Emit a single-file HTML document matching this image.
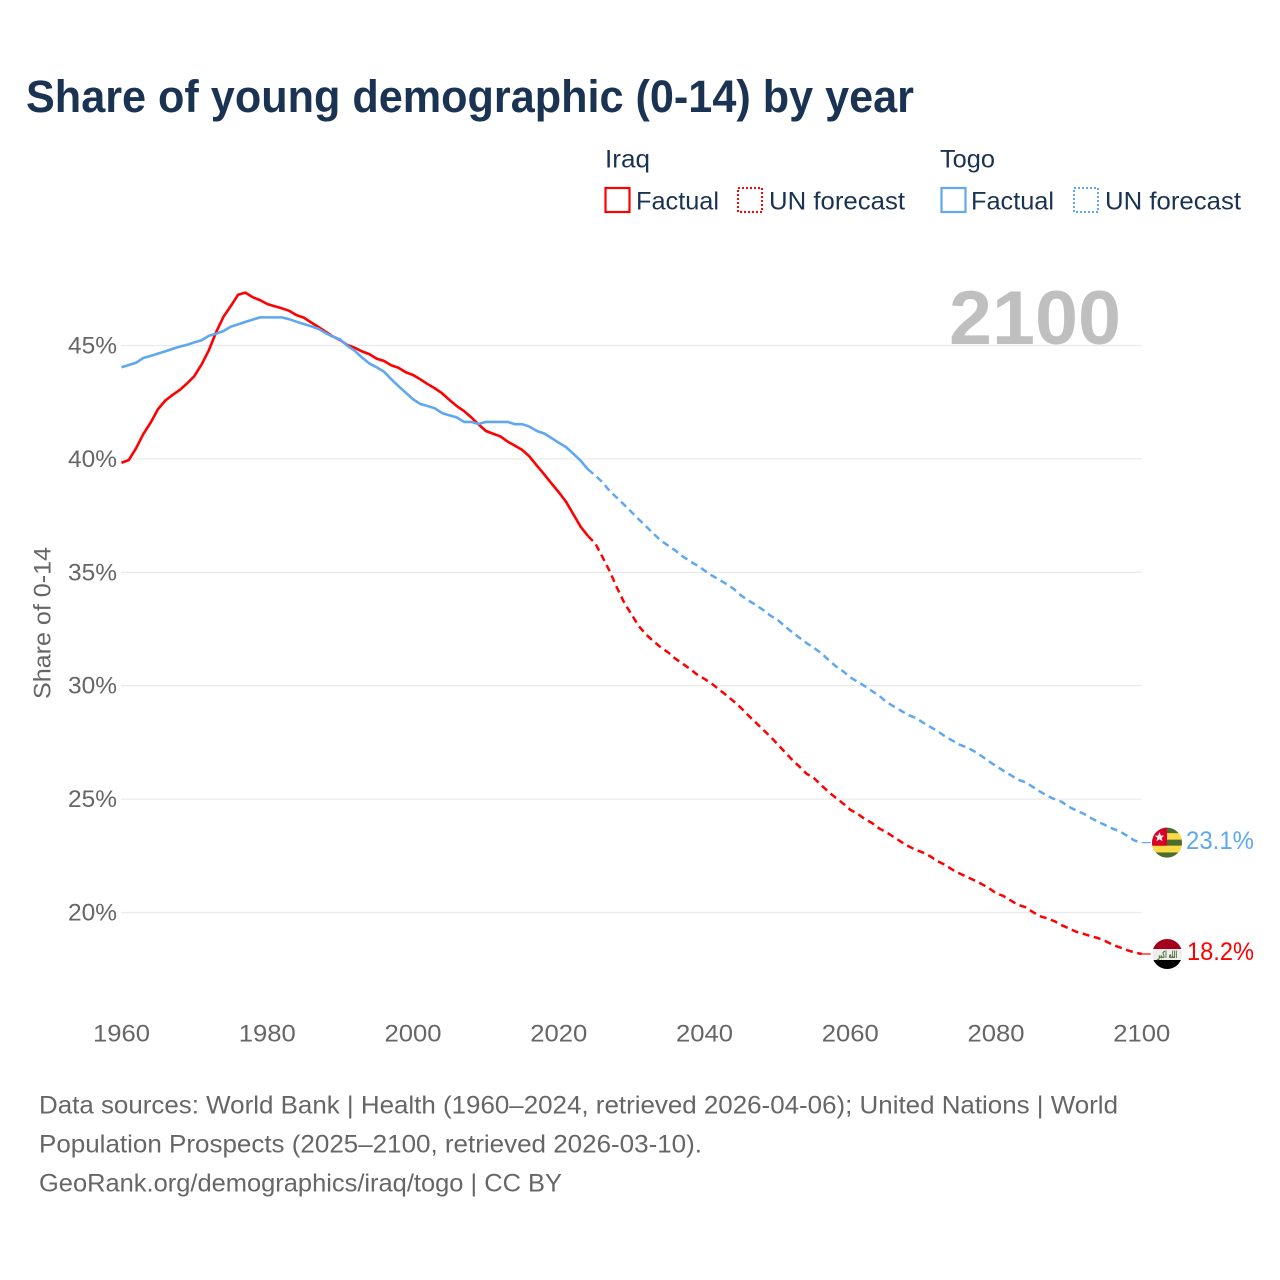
<!DOCTYPE html>
<html lang="en">
<head>
<meta charset="utf-8">
<title>Share of young demographic (0-14) by year</title>
<style>
html,body{margin:0;padding:0;background:#fff;}
svg{display:block;font-family:"Liberation Sans",sans-serif;}
</style>
</head>
<body>
<svg id="chart" xmlns="http://www.w3.org/2000/svg" width="1280" height="1280" viewBox="0 0 1280 1280">
  <rect width="1280" height="1280" fill="#ffffff"/>
  <text x="26" y="112" font-size="45" font-weight="700" fill="#1a3353" textLength="888" lengthAdjust="spacingAndGlyphs">Share of young demographic (0-14) by year</text>

  <g font-size="25" fill="#1a3353">
    <text x="605" y="167.5" textLength="45" lengthAdjust="spacingAndGlyphs">Iraq</text>
    <text x="940" y="167.5" textLength="55" lengthAdjust="spacingAndGlyphs">Togo</text>
    <g>
      <rect x="605.5" y="188" width="24" height="24" fill="none" stroke="#ff0000" stroke-width="2.2"/>
      <text x="636" y="209.5" textLength="83" lengthAdjust="spacingAndGlyphs">Factual</text>
    </g>
    <g>
      <rect x="738" y="188" width="24" height="24" fill="none" stroke="#ff0000" stroke-width="2" stroke-dasharray="2 2"/>
      <text x="769" y="209.5" textLength="136" lengthAdjust="spacingAndGlyphs">UN forecast</text>
    </g>
    <g>
      <rect x="941.5" y="188" width="24" height="24" fill="none" stroke="#5fa8f0" stroke-width="2.2"/>
      <text x="971" y="209.5" textLength="83" lengthAdjust="spacingAndGlyphs">Factual</text>
    </g>
    <g>
      <rect x="1074" y="188" width="24" height="24" fill="none" stroke="#5fa8f0" stroke-width="2" stroke-dasharray="2 2"/>
      <text x="1105" y="209.5" textLength="136" lengthAdjust="spacingAndGlyphs">UN forecast</text>
    </g>
  </g>

  <g id="grid"></g>
  <text x="949" y="344" font-size="76" font-weight="700" fill="#bfbfbf" textLength="172" lengthAdjust="spacingAndGlyphs">2100</text>
  <g id="y-axis" font-size="24.5" fill="#666666"></g>
  <g id="x-axis" font-size="24.5" fill="#666666"></g>
  <text transform="translate(50.5 623) rotate(-90)" text-anchor="middle" font-size="24.5" fill="#666666" textLength="152" lengthAdjust="spacingAndGlyphs">Share of 0-14</text>

  <g id="series"></g>

  <g id="flag-togo">
    <defs><clipPath id="flag-clip"><circle cx="0" cy="0" r="15"/></clipPath></defs>
    <g clip-path="url(#flag-clip)">
      <rect x="-15" y="-16" width="30" height="32" fill="#496e2d"/>
      <rect x="-15" y="-9.5" width="30" height="6.5" fill="#ffda44"/>
      <rect x="-15" y="3" width="30" height="6.8" fill="#ffda44"/>
      <rect x="-15" y="-16" width="15" height="19" fill="#d80027"/>
      <polygon points="-7.5,-10.5 -6,-7 -2.8,-7 -5.3,-4.8 -4.4,-1.4 -7.5,-3.3 -10.6,-1.4 -9.7,-4.8 -12.2,-7 -9,-7" fill="#f0f0f0"/>
    </g>
  </g>
  <g id="flag-iraq">
    <g clip-path="url(#flag-clip)">
      <rect x="-15" y="-16" width="30" height="11" fill="#a2001d"/>
      <rect x="-15" y="-5" width="30" height="11" fill="#eeeeee"/>
      <rect x="-15" y="6" width="30" height="10" fill="#000000"/>
      <text x="0" y="4" text-anchor="middle" font-size="10" font-weight="700" font-family="'DejaVu Sans',sans-serif" fill="#496e2d" textLength="20" lengthAdjust="spacingAndGlyphs">الله اكبر</text>
    </g>
  </g>
  <text id="label-togo" x="1186" font-size="25" fill="#5fa8f0" textLength="68" lengthAdjust="spacingAndGlyphs">23.1%</text>
  <text id="label-iraq" x="1187" font-size="25" fill="#ff0000" textLength="67" lengthAdjust="spacingAndGlyphs">18.2%</text>

  <g font-size="25" fill="#666666">
    <text x="39" y="1113.5" textLength="1079" lengthAdjust="spacingAndGlyphs">Data sources: World Bank | Health (1960–2024, retrieved 2026-04-06); United Nations | World</text>
    <text x="39" y="1152.5" textLength="663" lengthAdjust="spacingAndGlyphs">Population Prospects (2025–2100, retrieved 2026-03-10).</text>
    <text x="39" y="1191.5" textLength="523" lengthAdjust="spacingAndGlyphs">GeoRank.org/demographics/iraq/togo | CC BY</text>
  </g>
</svg>
<script>
const firstFactualYear = 1960;
const firstForecastYear = 2025;
const yTicks = [45, 40, 35, 30, 25, 20];
const xTicks = [1960, 1980, 2000, 2020, 2040, 2060, 2080, 2100];

const iraqFactual = [
  39.83,39.95,40.47,41.1,41.6,42.19,42.57,42.82,43.04,43.33,
  43.65,44.17,44.8,45.6,46.27,46.74,47.24,47.33,47.13,47.0,
  46.83,46.73,46.64,46.53,46.34,46.23,46.02,45.82,45.61,45.4,
  45.24,45.02,44.9,44.74,44.62,44.42,44.32,44.13,44.02,43.82,
  43.7,43.51,43.3,43.11,42.89,42.6,42.33,42.11,41.83,41.52,
  41.23,41.11,40.99,40.76,40.58,40.39,40.1,39.7,39.32,38.92,
  38.53,38.11,37.56,37.01,36.6
];
const iraqForecast = [
  36.28,35.67,35.04,34.31,33.65,33.13,32.62,32.25,31.96,31.69,
  31.47,31.19,30.97,30.74,30.49,30.3,30.09,29.83,29.58,29.31,
  29.02,28.69,28.39,28.07,27.77,27.43,27.08,26.74,26.44,26.12,
  25.93,25.62,25.32,25.06,24.81,24.53,24.35,24.12,23.94,23.7,
  23.53,23.32,23.11,22.92,22.76,22.64,22.47,22.26,22.1,21.89,
  21.72,21.57,21.42,21.26,21.08,20.85,20.73,20.53,20.34,20.24,
  20.03,19.84,19.74,19.62,19.44,19.3,19.15,19.06,18.96,18.87,
  18.74,18.58,18.46,18.34,18.24,18.17
];
const togoFactual = [
  44.04,44.14,44.24,44.45,44.54,44.64,44.74,44.85,44.95,45.03,
  45.14,45.23,45.43,45.52,45.64,45.83,45.93,46.04,46.14,46.24,
  46.24,46.24,46.24,46.16,46.05,45.95,45.85,45.74,45.55,45.39,
  45.27,44.98,44.77,44.47,44.21,44.04,43.85,43.52,43.21,42.92,
  42.63,42.42,42.33,42.23,42.02,41.92,41.83,41.63,41.63,41.54,
  41.63,41.63,41.63,41.63,41.53,41.53,41.42,41.23,41.12,40.92,
  40.71,40.52,40.23,39.92,39.54
];
const togoForecast = [
  39.27,38.97,38.58,38.28,37.97,37.65,37.33,37.02,36.7,36.4,
  36.18,35.96,35.7,35.49,35.3,35.08,34.86,34.68,34.48,34.27,
  33.98,33.76,33.57,33.35,33.1,32.91,32.63,32.36,32.12,31.88,
  31.67,31.44,31.14,30.86,30.64,30.37,30.17,29.98,29.76,29.55,
  29.27,29.08,28.89,28.7,28.58,28.37,28.18,27.99,27.77,27.58,
  27.4,27.28,27.11,26.9,26.67,26.46,26.25,26.06,25.86,25.75,
  25.55,25.34,25.15,25.0,24.88,24.66,24.5,24.36,24.17,24.0,
  23.85,23.7,23.57,23.38,23.17,23.08
];

const NS = 'http://www.w3.org/2000/svg';
function xScale(year) { return 121.5 + (year - 1960) * (1141.8 - 121.5) / 140; }
function yScale(v) { return 345.5 + (45 - v) * (912.5 - 345.5) / 25; }
function make(tag, attrs, parent, text) {
  const el = document.createElementNS(NS, tag);
  for (const k in attrs) el.setAttribute(k, attrs[k]);
  if (text !== undefined) el.textContent = text;
  parent.appendChild(el);
  return el;
}
function pathFrom(values, startYear) {
  return values.map(function (v, i) {
    return (i ? 'L' : 'M') + xScale(startYear + i).toFixed(2) + ' ' + yScale(v).toFixed(2);
  }).join(' ');
}

const gridGroup = document.getElementById('grid');
const yAxisGroup = document.getElementById('y-axis');
yTicks.forEach(function (t) {
  const line = make('line', { x1: 121, x2: 1141.5, y1: yScale(t), y2: yScale(t), stroke: '#ebebeb', 'stroke-width': 1.3 }, gridGroup);
  
  
  const label = make('text', { x: 117, y: yScale(t) + 8, 'text-anchor': 'end', textLength: 49, lengthAdjust: 'spacingAndGlyphs' }, yAxisGroup, t + '%');
  
  
});

const xAxisGroup = document.getElementById('x-axis');
xTicks.forEach(function (t) {
  const label = make('text', { x: xScale(t), y: 1041.5, 'text-anchor': 'middle', textLength: 57, lengthAdjust: 'spacingAndGlyphs' }, xAxisGroup, String(t));
  
  
});

const seriesGroup = document.getElementById('series');
function drawSeries(factual, forecast, color) {
  const lastFactualYear = firstFactualYear + factual.length - 1;
  const dashed = make('path', {
    d: pathFrom([factual[factual.length - 1]].concat(forecast), lastFactualYear),
    fill: 'none', stroke: color, 'stroke-width': 2.5, 'stroke-dasharray': '7 4.6', 'stroke-linejoin': 'round'
  }, seriesGroup);
  
  
  const solid = make('path', {
    d: pathFrom(factual, firstFactualYear),
    fill: 'none', stroke: color, 'stroke-width': 2.6, 'stroke-linejoin': 'round'
  }, seriesGroup);
  
  
  const endValue = forecast[forecast.length - 1];
  const endYear = firstForecastYear + forecast.length - 1;
  const leader = make('line', {
    x1: xScale(endYear), x2: xScale(endYear) + 9, y1: yScale(endValue), y2: yScale(endValue),
    stroke: color, 'stroke-width': 1.2
  }, seriesGroup);
  
  
}
drawSeries(iraqFactual, iraqForecast, '#ff0000');
drawSeries(togoFactual, togoForecast, '#5fa8f0');

const iraqEnd = yScale(iraqForecast[iraqForecast.length - 1]);
const togoEnd = yScale(togoForecast[togoForecast.length - 1]);
document.getElementById('flag-togo').setAttribute('transform', 'translate(1167 ' + togoEnd + ')');
document.getElementById('flag-iraq').setAttribute('transform', 'translate(1167.2 ' + iraqEnd + ')');
document.getElementById('label-togo').setAttribute('y', togoEnd + 6.5);
document.getElementById('label-iraq').setAttribute('y', iraqEnd + 6);
</script>
</body>
</html>
